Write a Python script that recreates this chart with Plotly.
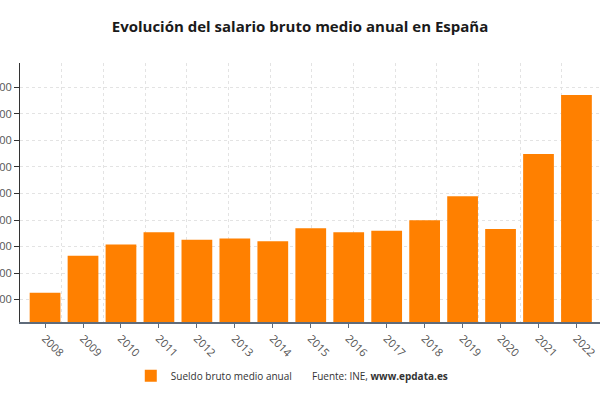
import plotly.graph_objects as go

# Datos
years = list(range(2008, 2023))
year_labels = [str(y) for y in years]
salario = [20260, 21650, 22080, 22540, 22260, 22300, 22200, 22690,
           22540, 22600, 22990, 23900, 22660, 25490, 27710]

naranja = '#FF8000'

fig = go.Figure()

fig.add_trace(go.Bar(
    x=years,
    y=salario,
    name='Sueldo bruto medio anual',
    marker=dict(color=naranja, line=dict(width=0)),
    width=0.81,
    hovertemplate='%{x}: %{y:,.0f} €<extra></extra>'
))

fig.add_annotation(
    text='Fuente: INE, <b>www.epdata.es</b>',
    xref='paper', yref='paper',
    x=0.50, y=-0.208,
    xanchor='left', yanchor='middle',
    showarrow=False,
    font=dict(family='Open Sans', size=10, color='#333333')
)

fig.update_layout(
    title=dict(
        text='<b>Evolución del salario bruto medio anual en España</b>',
        x=0.5, xanchor='center',
        y=0.9325, yanchor='middle',
        font=dict(family='Open Sans', size=15, color='#1a1a1a')
    ),
    width=600,
    height=400,
    margin=dict(l=20, r=0, t=63, b=78),
    paper_bgcolor='white',
    plot_bgcolor='white',
    separators=',.',
    font=dict(family='Open Sans', size=11, color='#555555'),
    showlegend=True,
    legend=dict(
        orientation='h',
        x=0.191, y=-0.208,
        xanchor='left', yanchor='middle',
        font=dict(family='Open Sans', size=10, color='#333333'),
        itemwidth=30,
    ),
    bargap=0.19,
)

fig.update_xaxes(
    type='linear',
    range=[2007.34, 2022.62],
    tickmode='array',
    tickvals=years,
    ticktext=year_labels,
    tickangle=45,
    ticks='outside',
    ticklen=4,
    tickcolor='#5f6b7a',
    showgrid=False,
    showline=True,
    linecolor='#5f6b7a',
    linewidth=2,
    zeroline=False,
    tickfont=dict(size=11, color='#555555'),
    minor=dict(
        tick0=2008.44,
        dtick=1.0975,
        showgrid=True,
        gridcolor='#e3e3e3',
        griddash='dot',
        gridwidth=1,
        ticks='',
    ),
)

fig.update_yaxes(
    range=[19155, 28920],
    tickmode='linear',
    tick0=20000,
    dtick=1000,
    tickformat=',.0f',
    ticks='outside',
    ticklen=5,
    tickcolor='#333333',
    showline=True,
    linecolor='#333333',
    linewidth=1,
    showgrid=True,
    gridcolor='#e3e3e3',
    griddash='dot',
    gridwidth=1,
    zeroline=False,
    automargin=False,
    tickfont=dict(size=11, color='#555555'),
)

# sin el margen por defecto del <body>, el gráfico empieza en la esquina
fig.write_html('out.html', config={'displayModeBar': False},
               post_script="document.body.style.margin='0';")
